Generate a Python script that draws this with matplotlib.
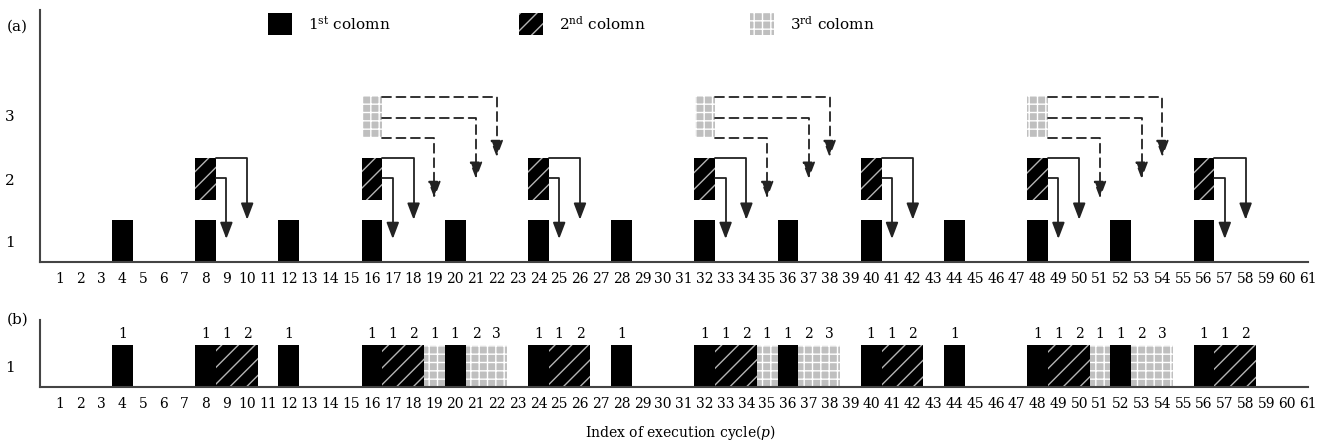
import matplotlib
matplotlib.use("Agg")
import matplotlib.pyplot as plt
from matplotlib.patches import Rectangle

plt.rcParams["font.family"] = ["DejaVu Serif"]
plt.rcParams["mathtext.fontset"] = "dejavuserif"
plt.rcParams["hatch.linewidth"] = 1.0

# ---- data -------------------------------------------------------------
cycles = list(range(1, 62))
# panel (a): which cycle each column of the matrix is touched
col1_cycles = [4, 8, 12, 16, 20, 24, 28, 32, 36, 40, 44, 48, 52, 56]
col2_cycles = [8, 16, 24, 32, 40, 48, 56]
col3_cycles = [16, 32, 48]
# forwarding arrows: (cycle offset, start height, tip height)
col2_arrows = [(1, 1.35, 0.37), (2, 1.68, 0.68)]
col3_arrows = [(3, 2.00, 1.03), (5, 2.32, 1.34), (6, 2.66, 1.69)]

# panel (b): serialised execution
b_cycles = [4,
            8, 9, 10,
            12,
            16, 17, 18, 19, 20, 21, 22,
            24, 25, 26,
            28,
            32, 33, 34, 35, 36, 37, 38,
            40, 41, 42,
            44,
            48, 49, 50, 51, 52, 53, 54,
            56, 57, 58]
b_kind = [1,
          1, 2, 2,
          1,
          1, 2, 2, 3, 1, 3, 3,
          1, 2, 2,
          1,
          1, 2, 2, 3, 1, 3, 3,
          1, 2, 2,
          1,
          1, 2, 2, 3, 1, 3, 3,
          1, 2, 2]
b_labels = ["1",
            "1", "1", "2",
            "1",
            "1", "1", "2", "1", "1", "2", "3",
            "1", "1", "2",
            "1",
            "1", "1", "2", "1", "1", "2", "3",
            "1", "1", "2",
            "1",
            "1", "1", "2", "1", "1", "2", "3",
            "1", "1", "2"]

legend_labels = ["1$^{\\rm st}$ colomn", "2$^{\\rm nd}$ colomn", "3$^{\\rm rd}$ colomn"]

# ---- styles -----------------------------------------------------------
styles = {
    1: dict(facecolor="black", edgecolor="black", linewidth=0),
    2: dict(facecolor="black", edgecolor="#b4b4b4", hatch="//", linewidth=0),
    3: dict(facecolor="#bfbfbf", edgecolor="white", hatch="++", linewidth=0),
}
BAR_H = 0.68
SPINE = "#444444"

W, H = 1330, 444
fig = plt.figure(figsize=(W / 100, H / 100), dpi=100)
ax_a = fig.add_axes([40 / W, 182 / H, 1268 / W, 252 / H])
ax_b = fig.add_axes([40 / W, 57 / H, 1268 / W, 67 / H])

px = 20.83  # pixels per cycle
xr = 0.04 + 1268 / px

for ax in (ax_a, ax_b):
    ax.set_xlim(0.04, xr)
    ax.set_xticks(cycles)
    ax.set_xticklabels([str(c) for c in cycles])
    ax.tick_params(axis="x", length=0, pad=7, labelsize=10)
    ax.tick_params(axis="y", length=0, pad=18, labelsize=11)
    for s in ("top", "right"):
        ax.spines[s].set_visible(False)
    for s in ("left", "bottom"):
        ax.spines[s].set_color(SPINE)
        ax.spines[s].set_linewidth(1.5)

# ---- panel (a) --------------------------------------------------------
ax_a.set_ylim(0, 4.06)
ax_a.set_yticks([0.33, 1.33, 2.36])
ax_a.set_yticklabels(["1", "2", "3"])

ax_a.bar(col1_cycles, BAR_H, bottom=0, width=1.0, **styles[1])
ax_a.bar(col2_cycles, BAR_H, bottom=1.0, width=1.0, **styles[2])
ax_a.bar(col3_cycles, BAR_H, bottom=2.0, width=0.98, **styles[3])


def draw_arrow(ax, c, off, y0, y1, ls):
    ax.annotate("", xy=(c + off, y1), xytext=(c + 0.5, y0),
                arrowprops=dict(arrowstyle="-|>,head_length=1.0,head_width=0.38",
                                connectionstyle="angle,angleA=0,angleB=90,rad=0",
                                color="#222222", lw=1.3, linestyle=ls,
                                shrinkA=0, shrinkB=0))


for c in col2_cycles:
    for off, y0, y1 in col2_arrows:
        draw_arrow(ax_a, c, off, y0, y1, "-")
for c in col3_cycles:
    for off, y0, y1 in col3_arrows:
        draw_arrow(ax_a, c, off, y0, y1, (0, (5, 3)))

# ---- panel (b) --------------------------------------------------------
ax_b.set_ylim(0, 1.6)
ax_b.set_yticks([0.5])
ax_b.set_yticklabels(["1"])
for c, k, lab in zip(b_cycles, b_kind, b_labels):
    ax_b.bar(c, 1.0, width=1.0, **styles[k])
    ax_b.text(c, 1.1, lab, ha="center", va="bottom", fontsize=10)

# ---- legend, panel labels, x label -------------------------------------
leg_x = [268, 519, 750]
for k, (x0, lab) in enumerate(zip(leg_x, legend_labels), start=1):
    fig.patches.append(Rectangle((x0 / W, 1 - 35 / H), 24 / W, 22 / H,
                                 transform=fig.transFigure, **styles[k]))
    fig.text((x0 + 40) / W, 1 - 24 / H, lab, ha="left", va="center", fontsize=11)

fig.text(7 / W, 1 - 27 / H, "(a)", ha="left", va="center", fontsize=11)
fig.text(7 / W, 1 - 320 / H, "(b)", ha="left", va="center", fontsize=11)
fig.text(680 / W, 1 - 432 / H, "Index of execution cycle($p$)",
         ha="center", va="center", fontsize=10)

fig.savefig("out.png", dpi=100)
